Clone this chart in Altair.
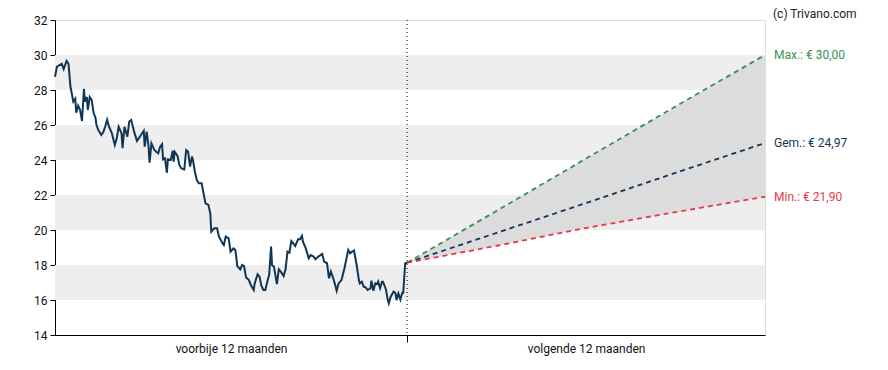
import altair as alt
import pandas as pd

# ---- data ----
past_days = [-365, -363, -361, -358, -356, -353, -351, -349, -346, -344, -343, -341, -339, -337,
             -335, -334, -332, -331, -329, -327, -325, -323, -322, -320, -317, -315, -313, -311,
             -309, -306, -303, -301, -299, -296, -295, -293, -290, -288, -286, -283, -280, -277,
             -273, -272, -270, -268, -267, -265, -262, -260, -258, -256, -254, -253, -251, -249,
             -248, -245, -243, -242, -241, -238, -236, -234, -231, -229, -227, -225, -223, -222,
             -220, -218, -216, -213, -211, -209, -206, -204, -203, -200, -197, -195, -191, -190,
             -188, -185, -183, -180, -178, -176, -173, -171, -169, -167, -164, -162, -159, -158,
             -155, -153, -151, -149, -147, -144, -143, -141, -140, -138, -135, -133, -131, -128,
             -126, -124, -122, -120, -118, -116, -113, -111, -109, -108, -105, -102, -100, -97,
             -95, -92, -88, -86, -83, -81, -79, -76, -75, -73, -71, -68, -65, -61, -59, -57, -55,
             -52, -50, -49, -47, -45, -43, -41, -38, -37, -35, -33, -31, -30, -28, -26, -25, -22,
             -20, -19, -17, -14, -12, -11, -9, -7, -5, -4, -2, 0]
past_price = [28.76, 29.33, 29.40, 29.50, 29.20, 29.66, 29.50, 28.20, 27.33, 27.50, 26.70, 27.10,
              26.86, 26.23, 28.06, 27.33, 27.60, 26.86, 27.60, 27.43, 26.70, 26.40, 26.00, 25.70,
              25.43, 25.58, 25.90, 26.30, 25.90, 25.52, 24.86, 25.24, 25.90, 25.52, 24.67, 25.90,
              25.33, 26.20, 26.29, 25.62, 25.09, 25.33, 25.67, 24.76, 25.62, 24.76, 23.85, 24.95,
              24.57, 24.47, 24.38, 24.76, 24.90, 24.04, 24.10, 23.27, 24.04, 24.00, 24.53, 23.90,
              24.47, 24.23, 23.70, 23.52, 23.46, 24.57, 24.47, 23.62, 24.20, 24.00, 23.33, 22.86,
              22.67, 22.67, 22.10, 21.52, 21.43, 20.95, 19.90, 20.10, 20.10, 19.62, 19.20, 19.14,
              19.62, 19.52, 18.76, 18.95, 18.86, 17.94, 17.75, 18.00, 17.94, 17.30, 17.14, 16.86,
              16.57, 16.95, 17.47, 17.33, 16.80, 16.57, 16.57, 17.24, 17.43, 19.05, 18.00, 17.90,
              16.91, 17.75, 17.62, 17.37, 17.75, 18.76, 18.70, 19.37, 19.24, 19.09, 19.47, 19.47,
              19.66, 19.33, 18.95, 18.38, 18.57, 18.48, 18.33, 18.48, 18.63, 18.19, 18.10, 17.24,
              17.62, 17.14, 16.95, 16.53, 16.95, 17.14, 17.80, 18.86, 18.67, 18.76, 18.82, 17.90,
              17.14, 16.95, 17.05, 16.76, 16.72, 16.57, 16.67, 17.10, 16.53, 16.95, 16.91, 17.05,
              16.67, 17.05, 17.05, 16.62, 16.00, 15.81, 16.19, 16.48, 16.38, 16.00, 16.38, 16.03,
              16.42, 16.42, 18.10, 18.13]

future_days = [0, 93, 186, 278, 371]
future_max = [18.13, 21.10, 24.10, 27.05, 30.00]
future_avg = [18.13, 19.84, 21.55, 23.26, 24.97]
future_min = [18.13, 19.10, 20.12, 21.02, 21.90]

band_lo = [16, 20, 24, 28]
band_hi = [18, 22, 26, 30]

y_ticks = [14, 16, 18, 20, 22, 24, 26, 28, 30, 32]

period_days = [-182, 186]
period_labels = ["voorbije 12 maanden", "volgende 12 maanden"]

target_names = ["Max.: € 30,00", "Gem.: € 24,97", "Min.: € 21,90"]
target_values = [30.00, 24.97, 21.90]
target_colors = ["#3b8f57", "#14365a", "#e8394a"]

# ---- tables ----
past = pd.DataFrame({"day": past_days, "price": past_price})
future = pd.DataFrame({"day": future_days, "max": future_max, "avg": future_avg, "min": future_min})
bands = pd.DataFrame({"lo": band_lo, "hi": band_hi})
periods = pd.DataFrame({"day": period_days, "label": period_labels})
targets = pd.DataFrame({"day": [future_days[-1]] * 3, "value": target_values,
                        "label": target_names, "color": target_colors})

W, H = 710, 315
FONT = "Roboto"

xs = alt.Scale(domain=[-365, 371], nice=False, zero=False)
ys = alt.Scale(domain=[14, 32], nice=False, zero=False)

y_axis = alt.Axis(values=y_ticks, tickSize=5, tickColor="black", domainColor="black",
                  labelColor="#111111", labelFontSize=12, labelFont=FONT,
                  labelPadding=3, grid=False, format="d", labelOverlap=False,
                  labelBound=False, labelFlush=False, tickCount=10)
x_axis = alt.Axis(values=[0], labels=False, tickSize=7, tickColor="black",
                  domainColor="black", grid=False)


def X(field):
    return alt.X(field, scale=xs, title=None, axis=x_axis)


def Y(field):
    return alt.Y(field, scale=ys, title=None, axis=y_axis)


band_layer = alt.Chart(bands).mark_rect(color="#eeeeee").encode(
    x=alt.value(0), x2=alt.value(W),
    y=Y("lo:Q"), y2="hi:Q",
)

area_layer = alt.Chart(future).mark_area(color="#dcdcdc", opacity=1).encode(
    x=X("day:Q"), y=Y("max:Q"), y2="min:Q",
)

rule_layer = alt.Chart(pd.DataFrame({"day": [0]})).mark_rule(
    color="black", strokeDash=[1, 3], strokeWidth=1).encode(
    x=X("day:Q"), y=alt.value(0), y2=alt.value(H))

price_layer = alt.Chart(past).mark_line(color="#0f3656", strokeWidth=2).encode(
    x=X("day:Q"), y=Y("price:Q"))


def dashed(col, color):
    return alt.Chart(future).mark_line(color=color, strokeWidth=1.8, strokeDash=[5, 4]).encode(
        x=X("day:Q"), y=Y(f"{col}:Q"))


max_layer = dashed("max", target_colors[0])
avg_layer = dashed("avg", target_colors[1])
min_layer = dashed("min", target_colors[2])

target_text = alt.Chart(targets).mark_text(
    align="left", baseline="middle", dx=9, fontSize=12, font=FONT, clip=False).encode(
    x=X("day:Q"), y=Y("value:Q"),
    text="label:N", color=alt.Color("color:N", scale=None))

period_text = alt.Chart(periods).mark_text(
    align="center", baseline="middle", fontSize=12, font=FONT, color="#111111").encode(
    x=X("day:Q"), y=alt.value(H + 14), text="label:N")

credit = alt.Chart(pd.DataFrame({"t": ["(c) Trivano.com"]})).mark_text(
    align="left", baseline="top", fontSize=12, font=FONT, color="#222222").encode(
    x=alt.value(W + 8), y=alt.value(-11), text="t:N")

chart = alt.layer(
    band_layer, area_layer, rule_layer, price_layer, max_layer, avg_layer, min_layer,
    target_text, period_text, credit
).properties(
    width=W, height=H,
    autosize=alt.AutoSizeParams(type="none"),
    padding={"left": 47, "top": 12, "right": 115, "bottom": 30},
).configure_view(stroke="black", strokeWidth=1.2).configure(font=FONT)

chart.save("out.html", embed_options={"renderer": "svg", "actions": False})
